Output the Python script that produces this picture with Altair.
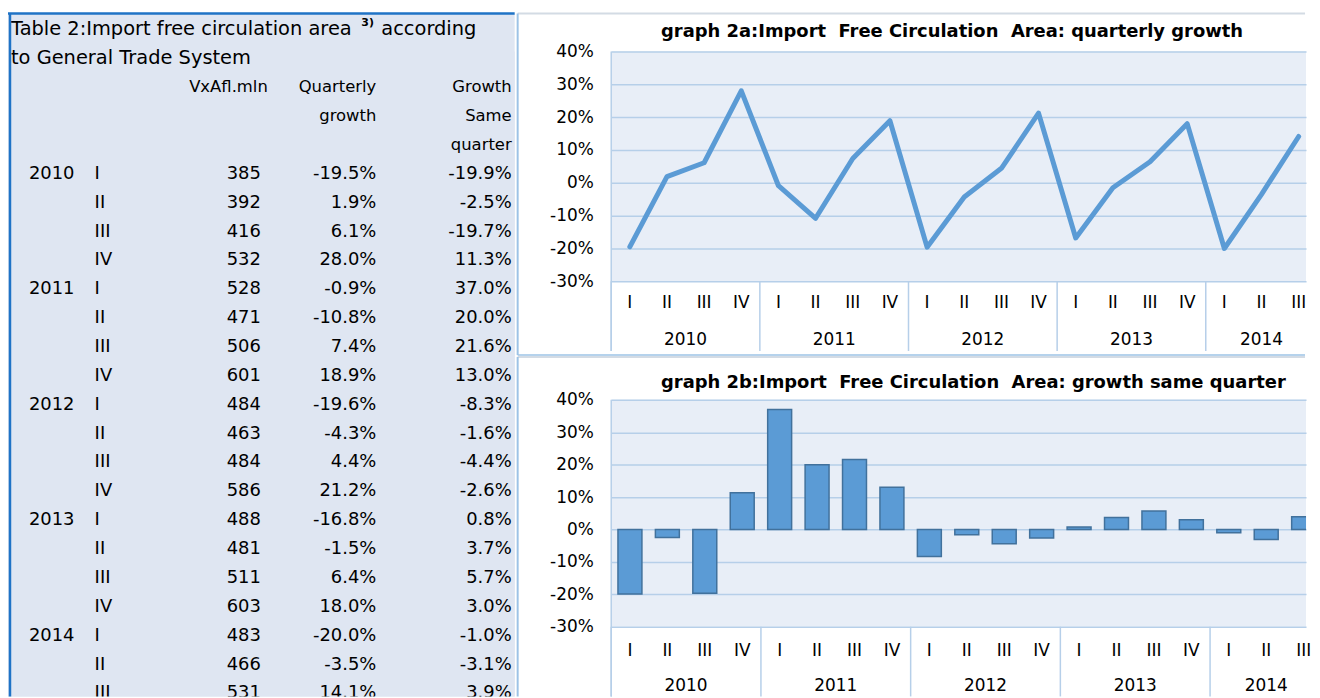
import altair as alt
import pandas as pd

# ---------------- data ----------------
years = ["2010", "2011", "2012", "2013", "2014"]
quarters_per_year = [4, 4, 4, 4, 3]
quarter_names = ["I", "II", "III", "IV"]
values_mln = [385, 392, 416, 532, 528, 471, 506, 601, 484, 463, 484, 586, 488, 481, 511, 603, 483, 466, 531]
quarterly_growth = [-19.5, 1.9, 6.1, 28.0, -0.9, -10.8, 7.4, 18.9, -19.6, -4.3, 4.4, 21.2,
                    -16.8, -1.5, 6.4, 18.0, -20.0, -3.5, 14.1]
same_quarter_growth = [-19.9, -2.5, -19.7, 11.3, 37.0, 20.0, 21.6, 13.0, -8.3, -1.6, -4.4, -2.6,
                       0.8, 3.7, 5.7, 3.0, -1.0, -3.1, 3.9]
y_ticks = [-30, -20, -10, 0, 10, 20, 30, 40]

table_title = ["Table 2:Import free circulation area", "to General Trade System"]
title_sup = ["3)"]
title_tail = ["according"]
hdr_value = ["VxAfl.mln"]
hdr_quarterly = ["Quarterly", "growth"]
hdr_same = ["Growth", "Same", "quarter"]
graph_a_title = "graph 2a:Import\u00a0 Free Circulation\u00a0 Area: quarterly growth"
graph_b_title = "graph 2b:Import\u00a0 Free Circulation\u00a0 Area: growth same quarter"

# ---------------- styling ----------------
FONT = "DejaVu Sans"
TABLE_BG = "#dfe6f2"
BLUE_BORDER = "#1f73c6"
LIGHT_LINE = "#9dc3e6"
BOX_TOP = "#d3dbe4"
PLOT_BG = "#e8eef7"
GRID = "#b6cfe9"
SERIES = "#5b9bd5"
BAR_STROKE = "#41719c"

# ---------------- frames ----------------
year_col, quarter_col = [], []
for y, n in zip(years, quarters_per_year):
    for q in quarter_names[:n]:
        year_col.append(y)
        quarter_col.append(q)

df = pd.DataFrame({
    "idx": list(range(len(values_mln))),
    "row": list(range(len(values_mln))),
    "year": year_col,
    "quarter": quarter_col,
    "year_label": [y if q == "I" else "" for y, q in zip(year_col, quarter_col)],
    "value": [str(v) for v in values_mln],
    "qg": quarterly_growth,
    "sg": same_quarter_growth,
    "qg_txt": [f"{v:.1f}%" for v in quarterly_growth],
    "sg_txt": [f"{v:.1f}%" for v in same_quarter_growth],
})

one = pd.DataFrame({"k": [0]})


def rows_frame(texts, first_row):
    return pd.DataFrame({"row": list(range(first_row, first_row + len(texts))), "text": texts})


# ---------------- table panel ----------------
# the table's plot area is aligned with the top of graph 2a's plot; headers sit above it
TW, TH = 512, 648
TOP = -38
row_scale = alt.Scale(domain=[-4.241, 18.103], reverse=True, zero=False, nice=False)


def table_text(data, field, xpix, align, size=18, weight="normal", dy=0, clip=False):
    return alt.Chart(data).mark_text(
        align=align, baseline="middle", font=FONT, fontSize=size, fontWeight=weight,
        color="#000000", dy=dy, clip=clip
    ).encode(
        x=alt.value(xpix),
        y=alt.Y("row:Q", scale=row_scale, axis=None),
        text=alt.Text(f"{field}:N"),
    )


table_layers = [
    alt.Chart(one).mark_rect(color=TABLE_BG).encode(
        x=alt.value(0), x2=alt.value(TW), y=alt.value(TOP), y2=alt.value(TH)),
    table_text(rows_frame(table_title, -5), "text", 6, "left", size=19.5),
    table_text(rows_frame(title_sup, -5), "text", 358, "left", size=11, weight="bold", dy=-6),
    table_text(rows_frame(title_tail, -5), "text", 378, "left", size=19.5),
    table_text(rows_frame(hdr_value, -3), "text", 264, "right", size=16.5),
    table_text(rows_frame(hdr_quarterly, -3), "text", 373, "right", size=16.5),
    table_text(rows_frame(hdr_same, -3), "text", 509, "right", size=16.5),
    table_text(df, "year_label", 24, "left", clip=True),
    table_text(df, "quarter", 90, "left", clip=True),
    table_text(df, "value", 257, "right", clip=True),
    table_text(df, "qg_txt", 373, "right", clip=True),
    table_text(df, "sg_txt", 509, "right", clip=True),
    alt.Chart(one).mark_rule(color=BLUE_BORDER, strokeWidth=2.5).encode(
        x=alt.value(0), x2=alt.value(TW), y=alt.value(TOP)),
    alt.Chart(one).mark_rule(color=BLUE_BORDER, strokeWidth=2.5).encode(
        x=alt.value(5), y=alt.value(TOP), y2=alt.value(TH)),
]

table = alt.layer(*table_layers).properties(
    width=TW, height=TH, view=alt.ViewBackground(fill=TABLE_BG, strokeWidth=0)
)


# ---------------- chart panels ----------------
def panel(kind, title, W, H, xmax, title_y, qlab_y, ylab_y, box_top, box_bottom, sep_bottom, bottom_rule):
    xs = alt.Scale(domain=[-0.5, xmax], nice=False, zero=False, padding=0)
    ys = alt.Scale(domain=[-30, 40], nice=False, zero=False, padding=0)
    yaxis = alt.Axis(values=y_ticks, labelExpr="datum.value + '%'", grid=True, gridColor=GRID,
                     gridWidth=1.5, domain=False, ticks=False, labelPadding=18, labelFont=FONT,
                     labelFontSize=17, labelColor="#000000", title=None)
    if kind == "line":
        series = alt.Chart(df).mark_line(
            color=SERIES, strokeWidth=5, strokeJoin="round", strokeCap="round"
        ).encode(
            x=alt.X("idx:Q", scale=xs, axis=None),
            y=alt.Y("qg:Q", scale=ys, axis=yaxis),
        )
    else:
        series = alt.Chart(df).transform_calculate(
            x0="datum.idx - 0.32", x1="datum.idx + 0.32"
        ).mark_bar(color=SERIES, stroke=BAR_STROKE, strokeWidth=1.5, clip=True).encode(
            x=alt.X("x0:Q", scale=xs, axis=None),
            x2="x1:Q",
            y=alt.Y("sg:Q", scale=ys, axis=yaxis),
            y2=alt.datum(0),
        )

    qlabels = alt.Chart(df).mark_text(
        font=FONT, fontSize=17, baseline="middle", color="#000000"
    ).encode(
        x=alt.X("idx:Q", scale=xs, axis=None),
        y=alt.value(qlab_y),
        text="quarter:N",
    )
    ylabels = alt.Chart(df).transform_aggregate(
        center="mean(idx)", groupby=["year"]
    ).mark_text(font=FONT, fontSize=17, baseline="middle", color="#000000").encode(
        x=alt.X("center:Q", scale=xs, axis=None),
        y=alt.value(ylab_y),
        text="year:N",
    )
    seps = alt.Chart(df).transform_aggregate(
        start="min(idx)", groupby=["year"]
    ).transform_calculate(sep="datum.start - 0.5").mark_rule(
        color=GRID, strokeWidth=1.5
    ).encode(
        x=alt.X("sep:Q", scale=xs, axis=None),
        y=alt.value(H),
        y2=alt.value(sep_bottom),
    )
    left_border = alt.Chart(one).mark_rule(color=GRID, strokeWidth=1.5).encode(
        x=alt.value(0), y=alt.value(0), y2=alt.value(sep_bottom))
    ttl = alt.Chart(one).mark_text(
        align="left", baseline="middle", font=FONT, fontSize=18, fontWeight="bold", color="#000000"
    ).encode(x=alt.value(50), y=alt.value(title_y), text=alt.value(title))
    box_top_rule = alt.Chart(one).mark_rule(color=BOX_TOP, strokeWidth=2).encode(
        x=alt.value(-94), x2=alt.value(W - 1), y=alt.value(box_top))
    box_left_rule = alt.Chart(one).mark_rule(color=LIGHT_LINE, strokeWidth=2).encode(
        x=alt.value(-94), y=alt.value(box_top), y2=alt.value(box_bottom))
    layers = [box_top_rule, box_left_rule, series, seps, left_border, qlabels, ylabels, ttl]
    if bottom_rule:
        layers.append(alt.Chart(one).mark_rule(color=LIGHT_LINE, strokeWidth=1.5).encode(
            x=alt.value(-94), x2=alt.value(W - 1), y=alt.value(box_bottom)))
    return alt.layer(*layers).properties(
        width=W, height=H, view=alt.ViewBackground(fill=PLOT_BG, strokeWidth=0)
    )


PW = 698
chart_a = panel("line", graph_a_title, PW, 231, -0.5 + PW / 37.33, -19, 253, 290, -38, 305, 301, True)
chart_b = panel("bar", graph_b_title, PW, 228, -0.5 + PW / 37.6, -17, 252, 288, -43, 298, 298, False)

chart = alt.hconcat(
    table, alt.vconcat(chart_a, chart_b, spacing=0), spacing=0
).properties(
    padding={"left": -5, "top": 2, "right": 0, "bottom": 0}
).configure(font=FONT)

chart.save("out.html", embed_options={"renderer": "svg", "actions": False})
